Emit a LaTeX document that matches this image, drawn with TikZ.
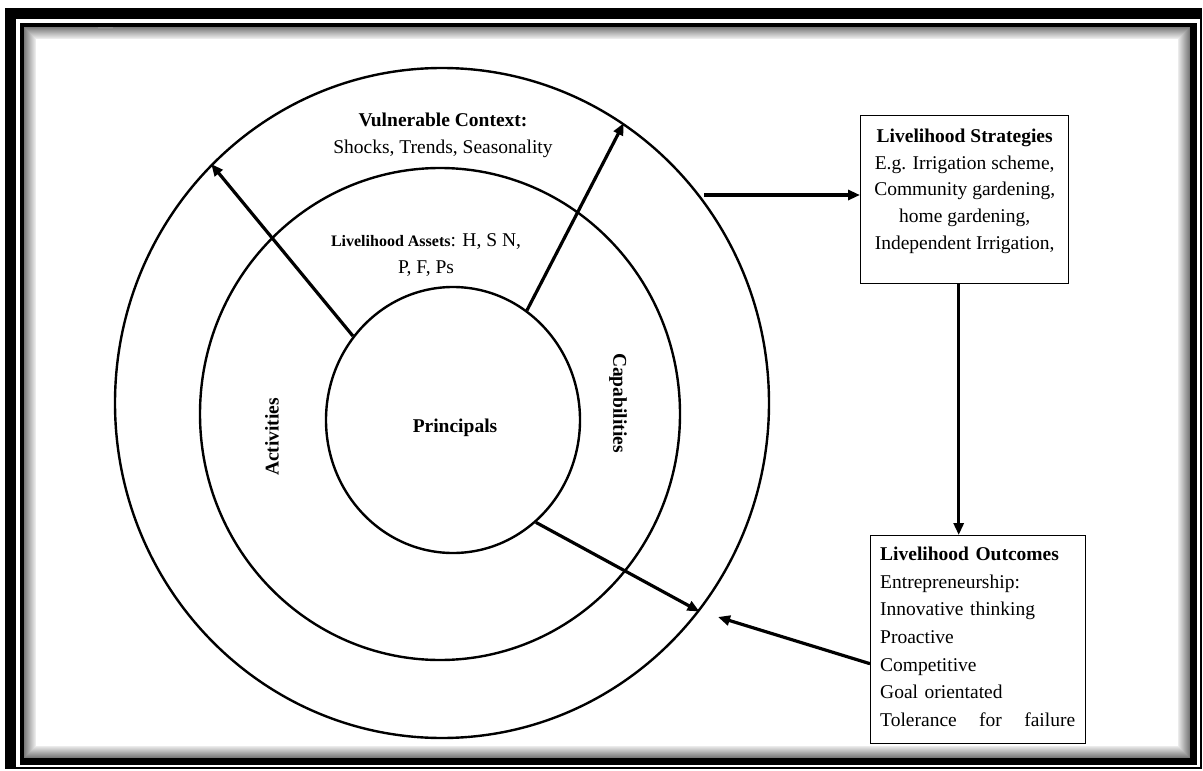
\documentclass[tikz,border=0pt]{standalone}
\usepackage{fontspec}
\setmainfont{Liberation Serif}
\usetikzlibrary{shapes.geometric,arrows.meta}
\newcommand\myfs{\fontsize{19.5}{27}\selectfont}
\begin{document}
\begin{tikzpicture}[x=1pt,y=-1pt,
  ring/.style={ellipse,draw,line width=2.4pt,inner sep=0pt},
  arr/.style={line width=3.2pt,-{Triangle[length=12pt,width=10pt]}},
  txtbox/.style={draw,line width=1.4pt,rectangle,inner sep=0pt},
  lbl/.style={font=\myfs,inner sep=0pt}]
\useasboundingbox (0,0) rectangle (1203,771);
\fill[white] (0,0) rectangle (1203,771);
% frame shadow
\foreach \i in {0,...,11}{
  \pgfmathtruncatemacro\g{52-4*\i}
  \draw[line width=1pt,black!\g] (24.5+\i,27.5+\i) rectangle (1189.5-\i,757.5-\i);
}
% frame
\fill (5,8) rectangle (16,769);
\fill (5,8) rectangle (1202,19);
\draw[line width=2pt] (1201,8) -- (1201,768) -- (5,768);
\fill (20,23) rectangle (24,765);
\fill (20,23) rectangle (1197,27);
\fill (1190,23) rectangle (1197,765);
\fill (20,758) rectangle (1197,765);
\fill[black!45] (98,27) rectangle (113,29.5);
% rings
\node[ring,minimum width=654pt,minimum height=670pt] (outer) at (442,403) {};
\node[ring,minimum width=480pt,minimum height=492pt] (middle) at (440,414) {};
\node[ring,minimum width=254pt,minimum height=266pt] (inner) at (453,420) {};
% texts in rings
\node[lbl,align=center] (vuln) at (443,135.5) {\textbf{Vulnerable Context:}\\Shocks, Trends, Seasonality};
\node[lbl,align=center] (assets) at (426,255.4) {{\fontsize{16}{27}\selectfont\bfseries Livelihood Assets}: H, S N,\\P, F, Ps};
\node[lbl,font=\myfs\bfseries,anchor=base] (princ) at (455,432) {Principals};
\node[lbl,font=\myfs\bfseries,rotate=90] (act) at (272,437) {Activities};
\node[lbl,font=\myfs\bfseries,rotate=-90] (cap) at (618,403) {Capabilities};
% boxes
\node[txtbox,minimum width=208pt,minimum height=168pt,anchor=north west] (strat) at (860,115) {};
\node[lbl,align=center,anchor=north,font=\fontsize{19.5}{26.7}\selectfont] (strattxt) at ([yshift=-13.7pt]strat.north)
  {\textbf{Livelihood Strategies}\\E.g. Irrigation scheme,\\Community gardening,\\home gardening,\\Independent Irrigation,};
\node[txtbox,minimum width=215pt,minimum height=208pt,anchor=north west] (outc) at (870,535) {};
\node[lbl,align=left,anchor=north west,text width=195pt,font=\fontsize{19.5}{27.7}\selectfont] (outctxt) at (880,546.7)
  {\textbf{Livelihood Outcomes}\\Entrepreneurship:\\Innovative thinking\\Proactive\\Competitive\\Goal orientated\\\hbox to 195pt{Tolerance\hfill for\hfill failure}};
% arrows
\draw[arr] (inner.140) -- (outer.134);
\draw[arr] (inner.56) -- (outer.57);
\draw[arr] (inner.-51) -- (outer.-39);
\coordinate (t4) at (718,617);
\draw[arr] ([yshift=-24pt]outc.west) -- (t4);
\coordinate (s5) at (704,195);
\draw[arr] (s5) -- (s5 -| strat.west);
\draw[arr] ([xshift=-6pt]strat.south) -- ([xshift=-6pt]strat.south |- outc.north);
\end{tikzpicture}
\end{document}
